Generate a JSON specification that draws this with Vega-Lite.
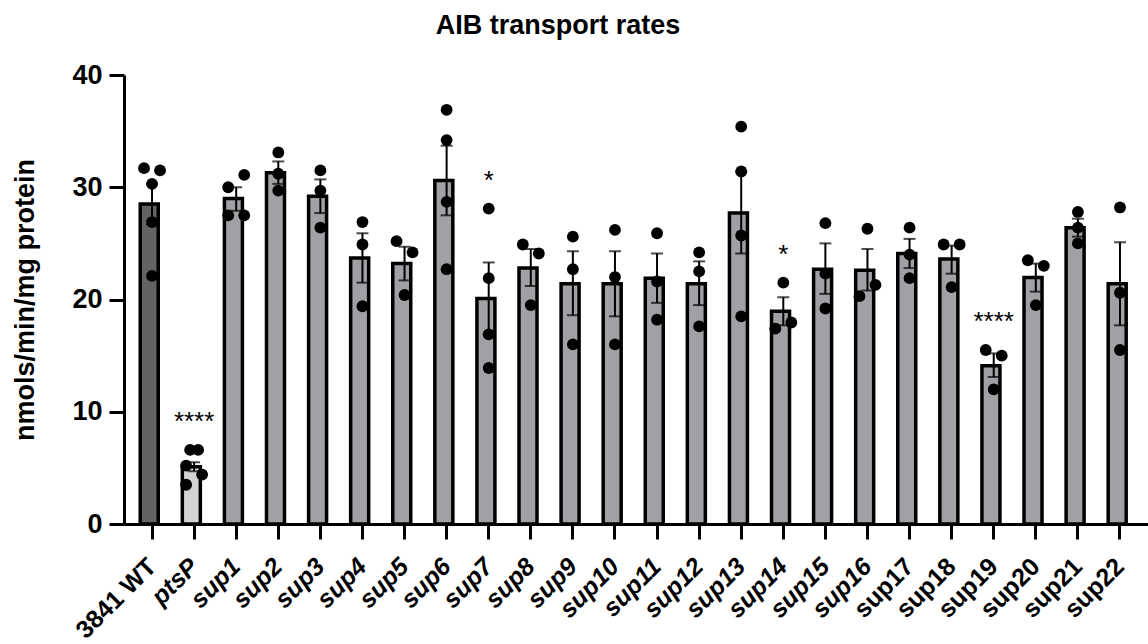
{
  "$schema": "https://vega.github.io/schema/vega-lite/v6.json",
  "autosize": "none",
  "padding": {"left": 124, "top": 75, "right": 0, "bottom": 120},
  "width": 1024,
  "height": 449,
  "config": {
    "font": "Liberation Sans",
    "view": {"stroke": null},
    "axis": {"grid": false, "domainColor": "black", "tickColor": "black", "labelColor": "black", "titleColor": "black"}
  },
  "title": {"text": "AIB transport rates", "fontSize": 27, "fontWeight": "bold", "anchor": "middle", "dx": -78, "offset": 21, "color": "black"},
  "datasets": {
    "summary": [
      {"strain": "3841 WT", "mean": 28.5, "lo": 26.7, "hi": 30.3, "sig": ""},
      {"strain": "ptsP", "mean": 5.1, "lo": 4.7, "hi": 5.5, "sig": "****"},
      {"strain": "sup1", "mean": 29.0, "lo": 27.9, "hi": 30.0, "sig": ""},
      {"strain": "sup2", "mean": 31.3, "lo": 30.3, "hi": 32.3, "sig": ""},
      {"strain": "sup3", "mean": 29.2, "lo": 27.7, "hi": 30.7, "sig": ""},
      {"strain": "sup4", "mean": 23.7, "lo": 21.5, "hi": 25.9, "sig": ""},
      {"strain": "sup5", "mean": 23.2, "lo": 21.7, "hi": 24.7, "sig": ""},
      {"strain": "sup6", "mean": 30.6, "lo": 27.5, "hi": 33.7, "sig": ""},
      {"strain": "sup7", "mean": 20.1, "lo": 16.9, "hi": 23.3, "sig": "*"},
      {"strain": "sup8", "mean": 22.8, "lo": 21.2, "hi": 24.5, "sig": ""},
      {"strain": "sup9", "mean": 21.4, "lo": 18.6, "hi": 24.3, "sig": ""},
      {"strain": "sup10", "mean": 21.4, "lo": 18.5, "hi": 24.3, "sig": ""},
      {"strain": "sup11", "mean": 21.9, "lo": 19.7, "hi": 24.1, "sig": ""},
      {"strain": "sup12", "mean": 21.4, "lo": 19.5, "hi": 23.4, "sig": ""},
      {"strain": "sup13", "mean": 27.7, "lo": 24.1, "hi": 31.4, "sig": ""},
      {"strain": "sup14", "mean": 18.95, "lo": 17.7, "hi": 20.2, "sig": "*"},
      {"strain": "sup15", "mean": 22.7, "lo": 20.5, "hi": 25.0, "sig": ""},
      {"strain": "sup16", "mean": 22.6, "lo": 20.8, "hi": 24.5, "sig": ""},
      {"strain": "sup17", "mean": 24.1, "lo": 22.8, "hi": 25.4, "sig": ""},
      {"strain": "sup18", "mean": 23.6, "lo": 22.3, "hi": 24.8, "sig": ""},
      {"strain": "sup19", "mean": 14.1, "lo": 13.1, "hi": 15.2, "sig": "****"},
      {"strain": "sup20", "mean": 21.95, "lo": 20.7, "hi": 23.2, "sig": ""},
      {"strain": "sup21", "mean": 26.4, "lo": 25.6, "hi": 27.2, "sig": ""},
      {"strain": "sup22", "mean": 21.4, "lo": 17.7, "hi": 25.1, "sig": ""}
    ],
    "points": [
      {"strain": "3841 WT", "value": 31.7, "lane": -1},
      {"strain": "3841 WT", "value": 31.5, "lane": 1},
      {"strain": "3841 WT", "value": 30.3, "lane": 0},
      {"strain": "3841 WT", "value": 26.9, "lane": 0},
      {"strain": "3841 WT", "value": 22.1, "lane": 0},
      {"strain": "ptsP", "value": 6.6, "lane": -0.5},
      {"strain": "ptsP", "value": 6.6, "lane": 0.5},
      {"strain": "ptsP", "value": 5.2, "lane": -1},
      {"strain": "ptsP", "value": 4.4, "lane": 1},
      {"strain": "ptsP", "value": 3.5, "lane": -1},
      {"strain": "sup1", "value": 30.0, "lane": -1},
      {"strain": "sup1", "value": 31.1, "lane": 1},
      {"strain": "sup1", "value": 27.5, "lane": -1},
      {"strain": "sup1", "value": 27.5, "lane": 1},
      {"strain": "sup2", "value": 33.1, "lane": 0},
      {"strain": "sup2", "value": 31.2, "lane": 0},
      {"strain": "sup2", "value": 29.7, "lane": 0},
      {"strain": "sup3", "value": 31.5, "lane": 0},
      {"strain": "sup3", "value": 29.7, "lane": 0},
      {"strain": "sup3", "value": 26.4, "lane": 0},
      {"strain": "sup4", "value": 26.9, "lane": 0},
      {"strain": "sup4", "value": 24.9, "lane": 0},
      {"strain": "sup4", "value": 19.4, "lane": 0},
      {"strain": "sup5", "value": 25.2, "lane": -1},
      {"strain": "sup5", "value": 24.2, "lane": 1},
      {"strain": "sup5", "value": 20.4, "lane": 0},
      {"strain": "sup6", "value": 36.9, "lane": 0},
      {"strain": "sup6", "value": 34.2, "lane": 0},
      {"strain": "sup6", "value": 28.7, "lane": 0},
      {"strain": "sup6", "value": 22.7, "lane": 0},
      {"strain": "sup7", "value": 28.1, "lane": 0},
      {"strain": "sup7", "value": 21.9, "lane": 0},
      {"strain": "sup7", "value": 16.9, "lane": 0},
      {"strain": "sup7", "value": 13.9, "lane": 0},
      {"strain": "sup8", "value": 24.9, "lane": -1},
      {"strain": "sup8", "value": 24.1, "lane": 1},
      {"strain": "sup8", "value": 19.5, "lane": 0},
      {"strain": "sup9", "value": 25.6, "lane": 0},
      {"strain": "sup9", "value": 22.7, "lane": 0},
      {"strain": "sup9", "value": 16.0, "lane": 0},
      {"strain": "sup10", "value": 26.2, "lane": 0},
      {"strain": "sup10", "value": 22.0, "lane": 0},
      {"strain": "sup10", "value": 16.0, "lane": 0},
      {"strain": "sup11", "value": 25.9, "lane": 0},
      {"strain": "sup11", "value": 21.6, "lane": 0},
      {"strain": "sup11", "value": 18.2, "lane": 0},
      {"strain": "sup12", "value": 24.2, "lane": 0},
      {"strain": "sup12", "value": 22.5, "lane": 0},
      {"strain": "sup12", "value": 17.6, "lane": 0},
      {"strain": "sup13", "value": 35.4, "lane": 0},
      {"strain": "sup13", "value": 31.4, "lane": 0},
      {"strain": "sup13", "value": 25.7, "lane": 0},
      {"strain": "sup13", "value": 18.5, "lane": 0},
      {"strain": "sup14", "value": 21.5, "lane": 0},
      {"strain": "sup14", "value": 17.4, "lane": -1},
      {"strain": "sup14", "value": 17.95, "lane": 1},
      {"strain": "sup15", "value": 26.8, "lane": 0},
      {"strain": "sup15", "value": 22.3, "lane": 0},
      {"strain": "sup15", "value": 19.2, "lane": 0},
      {"strain": "sup16", "value": 26.3, "lane": 0},
      {"strain": "sup16", "value": 20.3, "lane": -1},
      {"strain": "sup16", "value": 21.3, "lane": 1},
      {"strain": "sup17", "value": 26.4, "lane": 0},
      {"strain": "sup17", "value": 24.0, "lane": 0},
      {"strain": "sup17", "value": 21.9, "lane": 0},
      {"strain": "sup18", "value": 24.9, "lane": -1},
      {"strain": "sup18", "value": 24.9, "lane": 1},
      {"strain": "sup18", "value": 21.1, "lane": 0},
      {"strain": "sup19", "value": 15.5, "lane": -1},
      {"strain": "sup19", "value": 15.0, "lane": 1},
      {"strain": "sup19", "value": 12.0, "lane": 0},
      {"strain": "sup20", "value": 23.5, "lane": -1},
      {"strain": "sup20", "value": 23.0, "lane": 1},
      {"strain": "sup20", "value": 19.5, "lane": 0},
      {"strain": "sup21", "value": 27.8, "lane": 0},
      {"strain": "sup21", "value": 26.4, "lane": 0},
      {"strain": "sup21", "value": 25.0, "lane": 0},
      {"strain": "sup22", "value": 28.2, "lane": 0},
      {"strain": "sup22", "value": 20.6, "lane": 0},
      {"strain": "sup22", "value": 15.5, "lane": 0}
    ]
  },
  "encoding": {
    "x": {
      "field": "strain", "type": "nominal", "sort": null,
      "scale": {"paddingInner": 0.44, "paddingOuter": 0.386},
      "axis": {
        "title": null, "labelAngle": -45, "labelFontSize": 25, "labelFontWeight": "bold",
        "labelFontStyle": {"condition": {"test": "datum.value === '3841 WT' || datum.value === 'sup17' || datum.value === 'sup18' || datum.value === 'sup19' || datum.value === 'sup20' || datum.value === 'sup21' || datum.value === 'sup22'", "value": "normal"}, "value": "italic"},
        "tickSize": 15, "tickWidth": 3, "domainWidth": 3, "labelPadding": 23, "labelAlign": "right", "labelBaseline": "middle"
      }
    }
  },
  "layer": [
    {
      "data": {"name": "summary"},
      "mark": {"type": "bar", "stroke": "black", "strokeWidth": 3.5},
      "encoding": {
        "y": {
          "field": "mean", "type": "quantitative",
          "scale": {"domain": [0, 40], "nice": false},
          "axis": {"values": [0, 10, 20, 30, 40], "title": "nmols/min/mg protein", "titleFontSize": 27, "titleFontWeight": "bold", "titlePadding": 32, "labelFontSize": 27, "labelFontWeight": "bold", "tickSize": 15, "tickWidth": 3, "domainWidth": 3, "labelPadding": 7}
        },
        "fill": {"condition": [{"test": "datum.strain === '3841 WT'", "value": "#636363"}, {"test": "datum.strain === 'ptsP'", "value": "#d4d4d4"}], "value": "#a1a1a5"}
      }
    },
    {
      "data": {"name": "summary"},
      "mark": {"type": "rule", "color": "black", "strokeWidth": 2},
      "encoding": {"y": {"field": "lo", "type": "quantitative"}, "y2": {"field": "hi"}}
    },
    {
      "data": {"name": "summary"},
      "mark": {"type": "tick", "color": "black", "thickness": 2, "size": 12},
      "encoding": {"y": {"field": "lo", "type": "quantitative"}}
    },
    {
      "data": {"name": "summary"},
      "mark": {"type": "tick", "color": "black", "thickness": 2, "size": 12},
      "encoding": {"y": {"field": "hi", "type": "quantitative"}}
    },
    {
      "data": {"name": "points"},
      "mark": {"type": "circle", "color": "black", "opacity": 1, "size": 140},
      "encoding": {
        "y": {"field": "value", "type": "quantitative"},
        "xOffset": {"field": "lane", "type": "quantitative", "scale": {"domain": [-1, 1], "range": [3.8, 19.8]}}
      }
    },
    {
      "data": {"name": "points"},
      "transform": [
        {"aggregate": [{"op": "max", "field": "value", "as": "top"}], "groupby": ["strain"]},
        {"lookup": "strain", "from": {"data": {"name": "summary"}, "key": "strain", "fields": ["sig"]}},
        {"filter": "datum.sig !== ''"}
      ],
      "mark": {"type": "text", "fontSize": 26, "dy": -28, "color": "black", "baseline": "middle"},
      "encoding": {"y": {"field": "top", "type": "quantitative"}, "text": {"field": "sig"}}
    }
  ]
}
